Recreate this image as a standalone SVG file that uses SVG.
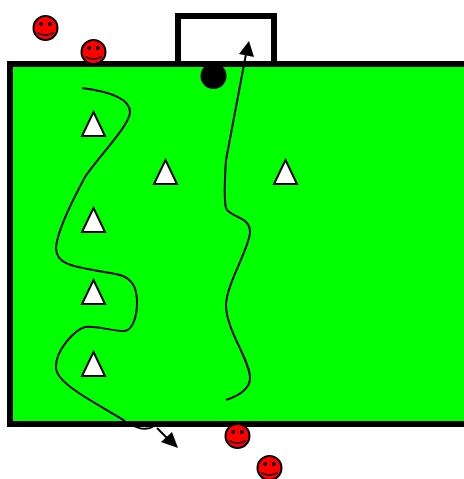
<svg xmlns="http://www.w3.org/2000/svg" width="464" height="479" viewBox="0 0 464 479">
<style>
.line{fill:none;stroke:#000;stroke-width:2}
.frame{stroke:#000;stroke-width:6}
.cone{fill:#fff;stroke:#000;stroke-width:2}
.face{fill:#f00;stroke:#000;stroke-width:2}
.eye{fill:#000}
.smile{fill:none;stroke:#000;stroke-width:1.5;stroke-linecap:round}
</style>
<defs>
<g id="p"><circle class="face" r="12"/><circle class="eye" cx="-4.300" cy="-4" r="2"/><circle class="eye" cx="4.300" cy="-4" r="2"/><path class="smile" d="M-7.500 5Q0 9 7.500 5"/></g>
<polygon id="c" class="cone" points="0,-12 11.500,12 -11.500,12"/>
</defs>
<g id="goal"><rect class="frame" x="178" y="16" width="96" height="48" fill="#fff"/></g>
<g id="connectors-under"><path class="line" d="M130 424C137 428 147 431 154 426"/></g>
<g id="field"><rect class="frame" x="10" y="64" width="466" height="360" fill="#0f0"/></g>
<g id="ball"><circle cx="213.500" cy="76" r="13" fill="#000"/></g>
<g id="connectors">
<path class="line" d="M82 88C105 91 130 97 130 112C130 125 100 155 85 177C78 190 57 230 56 248C56 268 82 267 120 275C134 279 137 290 137 303C137 315 133 331 124 331C110 331 95 325 85 327C75 330 55 350 56 368C57 385 100 405 125 421"/>
<path class="line" d="M157 428L171 442"/>
<polygon points="178,448 161,442 172,432" fill="#000"/>
<path class="line" d="M226 400C238 396 250 390 250 378C250 360 226 330 226 305C226 285 250 247 250 232C250 216 230 218 226 208C224 200 225 175 226 160L246 54"/>
<polygon points="249,41 239,54 254,57" fill="#000"/>
</g>
<g id="player1"><use href="#p" x="45.500" y="28"/></g>
<g id="player2"><use href="#p" x="93.500" y="52"/></g>
<g id="player3"><use href="#p" x="237.500" y="436"/></g>
<g id="player4"><use href="#p" x="269.500" y="468"/></g>
<g id="cone1"><use href="#c" x="93.500" y="124"/></g>
<g id="cone2"><use href="#c" x="165.500" y="172"/></g>
<g id="cone3"><use href="#c" x="285.500" y="172"/></g>
<g id="cone4"><use href="#c" x="93.500" y="220"/></g>
<g id="cone5"><use href="#c" x="93.500" y="292"/></g>
<g id="cone6"><use href="#c" x="93.500" y="364"/></g>
</svg>
